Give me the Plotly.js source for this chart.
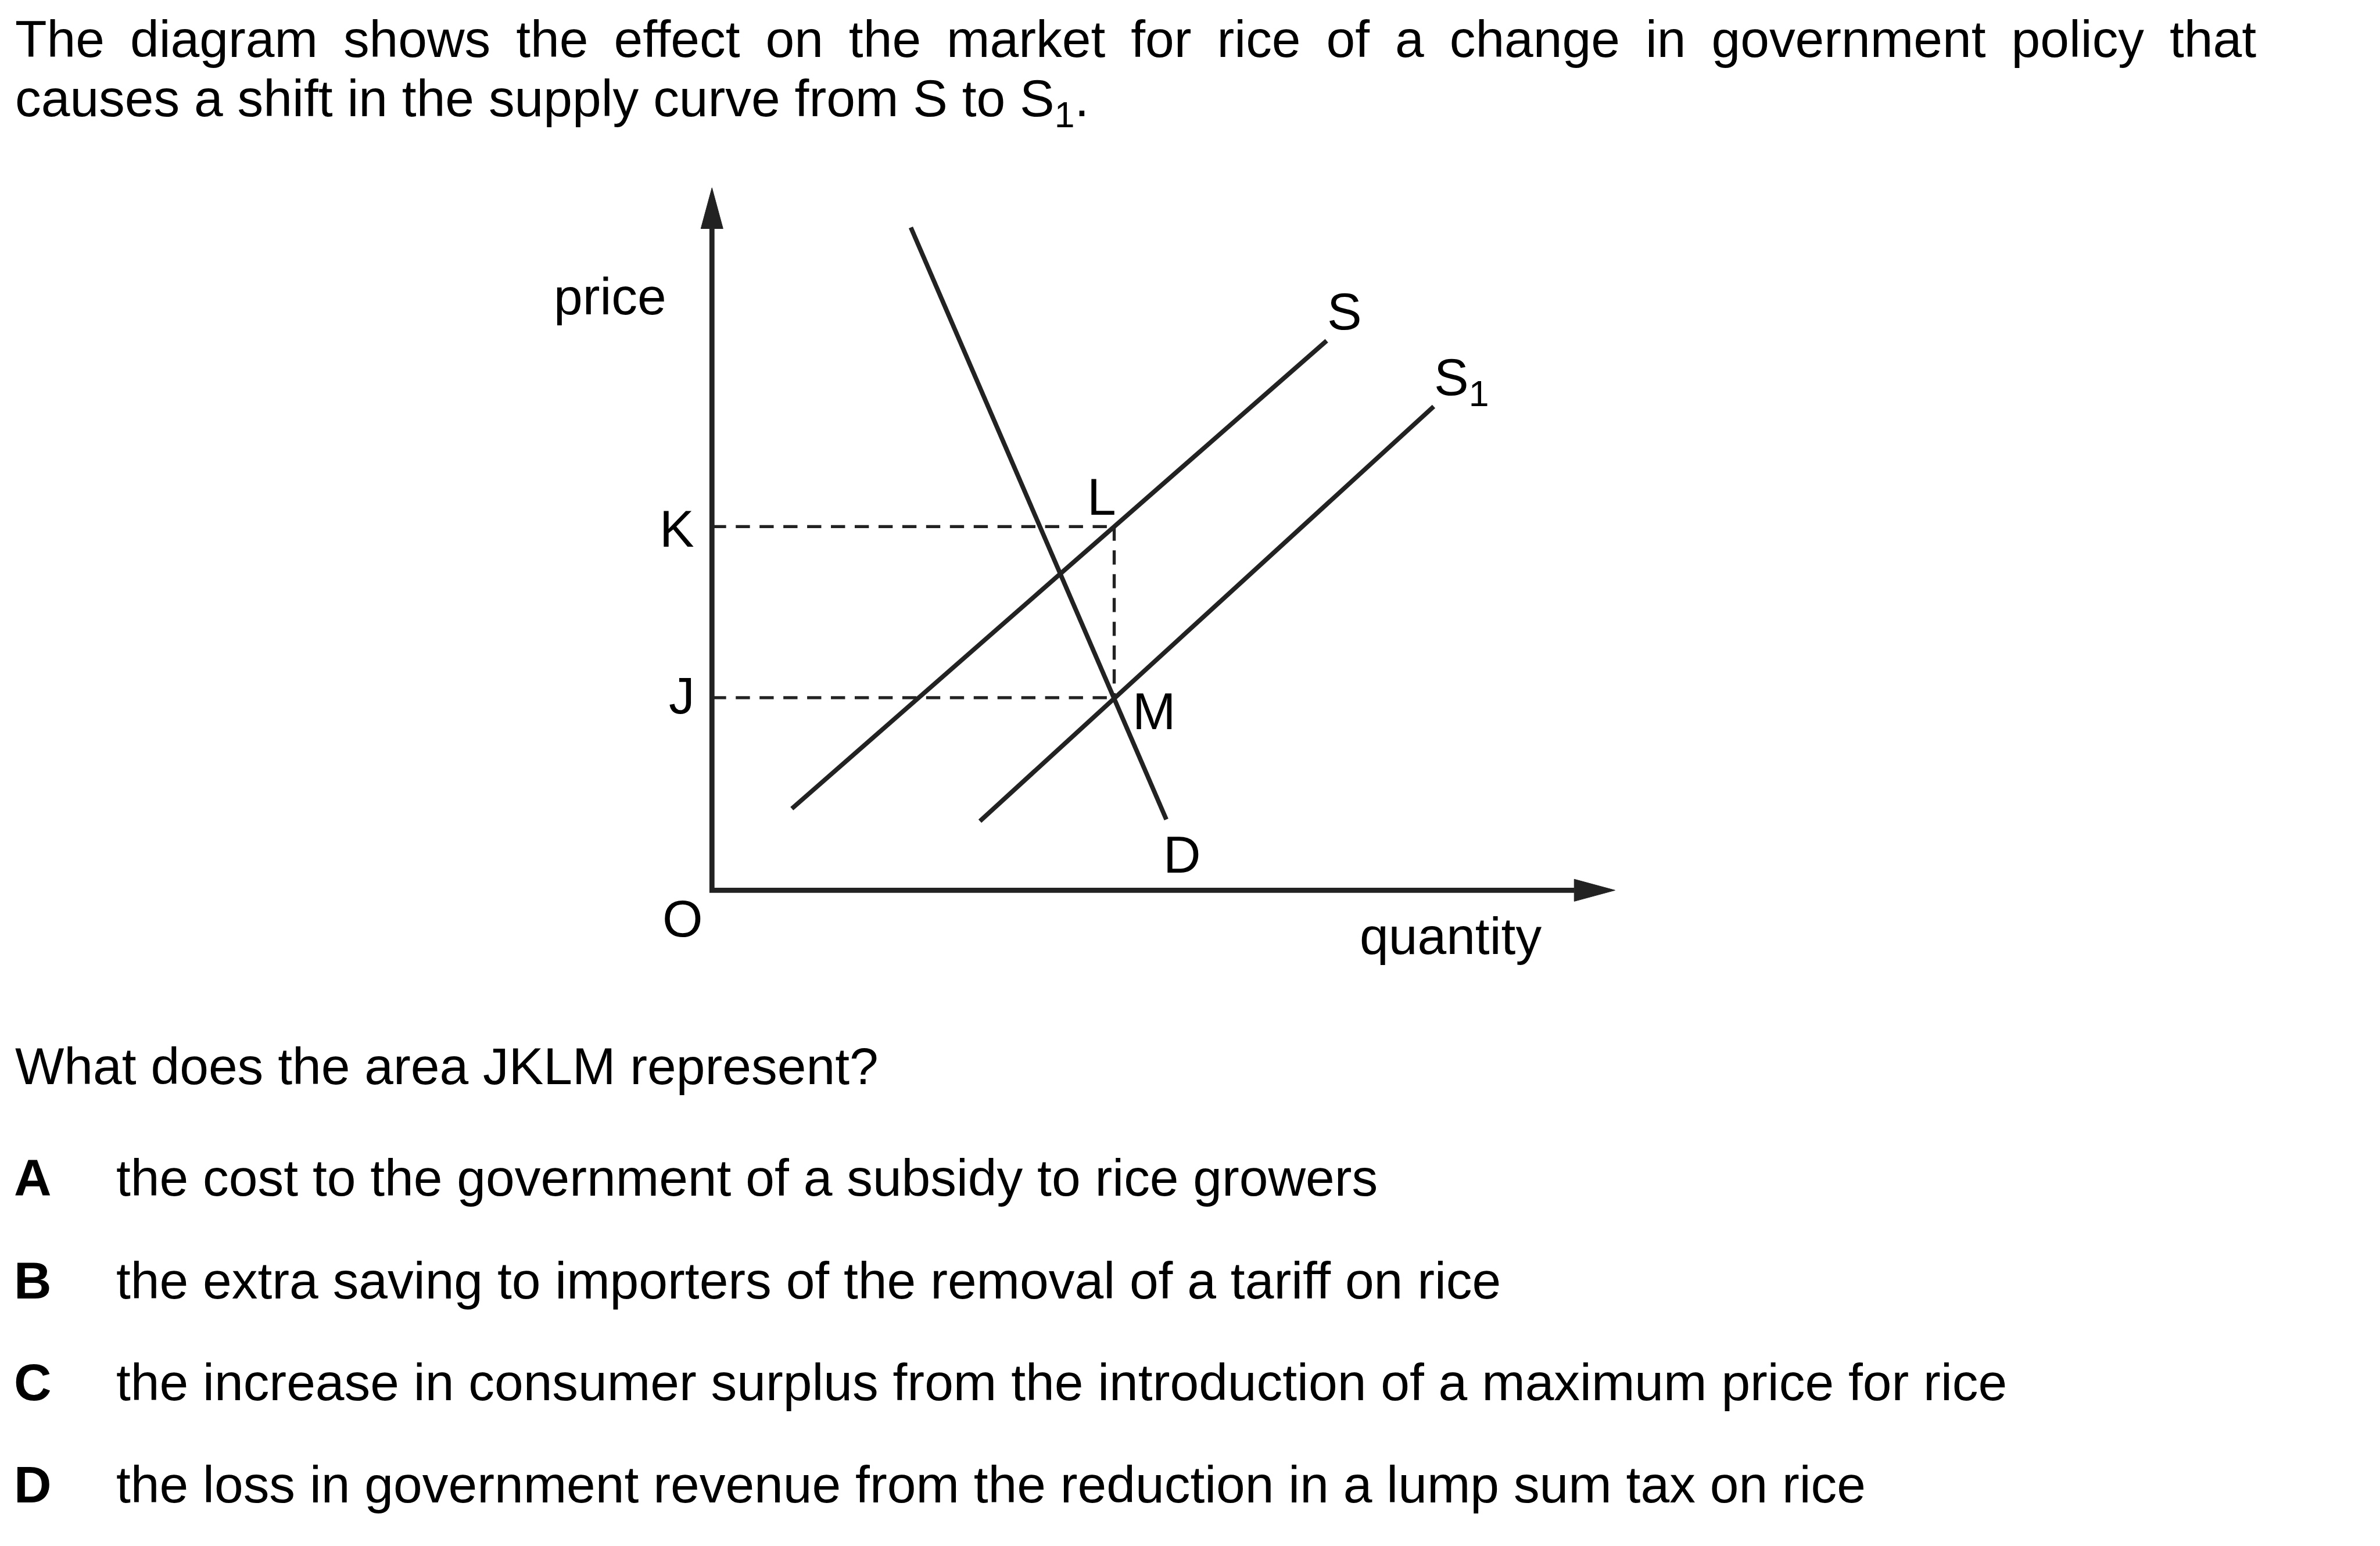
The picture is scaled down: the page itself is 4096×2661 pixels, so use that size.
<!DOCTYPE html>
<html>
<head>
<meta charset="utf-8">
<script src="https://cdn.plot.ly/plotly-3.0.1.min.js"></script>
<style>html,body{margin:0;padding:0;background:#fff;overflow:hidden}</style>
</head>
<body>
<div id="chart" style="width:4096px;height:2661px"></div>
<script>
// ---------------- data (diagram units: quantity, price) ----------------
const demandQ = [3.51, 8.02];
const demandP = [11.70, 1.25];
const supplyQ = [1.41, 10.85];
const supplyP = [1.44, 9.70];
const supply1Q = [4.73, 12.74];
const supply1P = [1.22, 8.54];
const priceLabels = ['K', 'J'];
const priceValues = [6.42, 3.40];
const pointLabels = ['L', 'M'];
const pointQuantity = 7.10;
const axisEnds = [15.94, 12.40];          // tip of quantity axis, tip of price axis
const curveLabels = ['D', 'S', 'S<sub>1</sub>'];
const axisLabels = ['price', 'quantity', 'O'];
const introLines = [
  'The diagram shows the effect on the market for rice of a change in government policy that',
  'causes a shift in the supply curve from S to S<sub>1</sub>.'
];
const questionText = 'What does the area JKLM represent?';
const optionLetters = ['A', 'B', 'C', 'D'];
const optionTexts = [
  'the cost to the government of a subsidy to rice growers',
  'the extra saving to importers of the removal of a tariff on rice',
  'the increase in consumer surplus from the introduction of a maximum price for rice',
  'the loss in government revenue from the reduction in a lump sum tax on rice'
];

// ---------------- layout constants ----------------
const REF_W = 4201, REF_H = 2729, SCALE = 0.975;
const W = 4096, H = 2661;
const ORIGIN = [1256.7, 1571.5];     // reference px of the axes corner
const PX_PER_UNIT = 100;              // reference px per diagram unit
const REF_FONT = 91.7;
const FONT = REF_FONT * SCALE;
const ASCENT = 0.905;
const ink = '#222222';
const FAMILY = 'Liberation Sans, Arial, Helvetica, sans-serif';

const xRange = [-ORIGIN[0] / PX_PER_UNIT, (REF_W - ORIGIN[0]) / PX_PER_UNIT];
const yRange = [-(REF_H - ORIGIN[1]) / PX_PER_UNIT, ORIGIN[1] / PX_PER_UNIT];

const curveW = 8 * SCALE, axisW = 9 * SCALE, dashW = 5.5 * SCALE;
const dashSpec = (25 * SCALE) + 'px,' + (17 * SCALE) + 'px';
const ARROW_LEN = 0.72, ARROW_HALF = 0.195;

// ---------------- traces ----------------
const traces = [];
const lineTrace = (x, y, extra) => Object.assign({
  type: 'scatter', mode: 'lines', x: x, y: y, hoverinfo: 'skip',
  line: {color: ink, width: curveW}
}, extra || {});

// axes
traces.push(lineTrace([0, 0, axisEnds[0] - ARROW_LEN], [axisEnds[1] - ARROW_LEN, 0, 0],
  {line: {color: ink, width: axisW}}));
// arrow heads
traces.push(lineTrace([-ARROW_HALF, 0, ARROW_HALF, -ARROW_HALF],
  [axisEnds[1] - ARROW_LEN, axisEnds[1], axisEnds[1] - ARROW_LEN, axisEnds[1] - ARROW_LEN],
  {fill: 'toself', fillcolor: ink, line: {color: ink, width: 1}}));
traces.push(lineTrace([axisEnds[0] - ARROW_LEN, axisEnds[0], axisEnds[0] - ARROW_LEN, axisEnds[0] - ARROW_LEN],
  [-ARROW_HALF, 0, ARROW_HALF, -ARROW_HALF],
  {fill: 'toself', fillcolor: ink, line: {color: ink, width: 1}}));
// dashed guides
priceValues.forEach(v => traces.push(lineTrace([0, pointQuantity], [v, v],
  {line: {color: ink, width: dashW, dash: dashSpec}})));
traces.push(lineTrace([pointQuantity, pointQuantity], [priceValues[0], priceValues[1]],
  {line: {color: ink, width: dashW, dash: dashSpec}}));
// curves
traces.push(lineTrace(demandQ, demandP));
traces.push(lineTrace(supplyQ, supplyP));
traces.push(lineTrace(supply1Q, supply1P));

// ---------------- text ----------------
const px = X => X / REF_W;
const pyTop = baseline => 1 - (baseline - ASCENT * REF_FONT) / REF_H;
const ann = (text, X, baseline, xanchor, extraFont) => ({
  xref: 'paper', yref: 'paper', x: px(X), y: pyTop(baseline),
  xanchor: xanchor, yanchor: 'top', text: text, showarrow: false,
  borderpad: 0, borderwidth: 0, align: 'left',
  font: Object.assign({family: FAMILY, size: FONT, color: '#000'}, extraFont || {})
});

const annotations = [];
annotations.push(ann(introLines[0], 27, 100, 'left'));
annotations.push(ann(introLines[1], 27, 205, 'left'));
annotations.push(ann(axisLabels[0], 1077, 555, 'center'));
annotations.push(ann(axisLabels[1], 2561, 1684, 'center'));
annotations.push(ann(axisLabels[2], 1205.5, 1653, 'center'));
annotations.push(ann(priceLabels[0], 1195, 965, 'center'));
annotations.push(ann(priceLabels[1], 1204, 1259, 'center'));
annotations.push(ann(pointLabels[0], 1945, 908.7, 'center'));
annotations.push(ann(pointLabels[1], 2037, 1286.7, 'center'));
annotations.push(ann(curveLabels[0], 2087, 1540, 'center'));
annotations.push(ann(curveLabels[1], 2373, 581, 'center'));
annotations.push(ann(curveLabels[2], 2531.7, 697.5, 'left'));
annotations.push(ann(questionText, 27, 1914, 'left'));
const optionBaselines = [2110, 2292, 2472, 2652];
optionLetters.forEach((L, i) => {
  annotations.push(ann('<b>' + L + '</b>', 25, optionBaselines[i], 'left'));
  annotations.push(ann(optionTexts[i], 205, optionBaselines[i], 'left'));
});

const layout = {
  width: W, height: H, autosize: false,
  margin: {l: 0, r: 0, t: 0, b: 0, pad: 0},
  paper_bgcolor: '#fff', plot_bgcolor: '#fff',
  showlegend: false, hovermode: false,
  font: {family: FAMILY, size: FONT, color: '#000'},
  xaxis: {range: xRange, visible: false, showgrid: false, zeroline: false, fixedrange: true},
  yaxis: {range: yRange, visible: false, showgrid: false, zeroline: false, fixedrange: true},
  annotations: annotations
};

Plotly.newPlot('chart', traces, layout, {staticPlot: true, displayModeBar: false}).then(gd => {
  // justify the first line of the intro paragraph, as in the reference
  const target = (3983 - 27) * SCALE;
  gd.querySelectorAll('.annotation-text').forEach(n => {
    if (n.textContent === introLines[0]) {
      const natural = n.getComputedTextLength();
      const gaps = introLines[0].split(' ').length - 1;
      n.style.wordSpacing = ((target - natural) / gaps) + 'px';
    }
  });
});
</script>
</body>
</html>
